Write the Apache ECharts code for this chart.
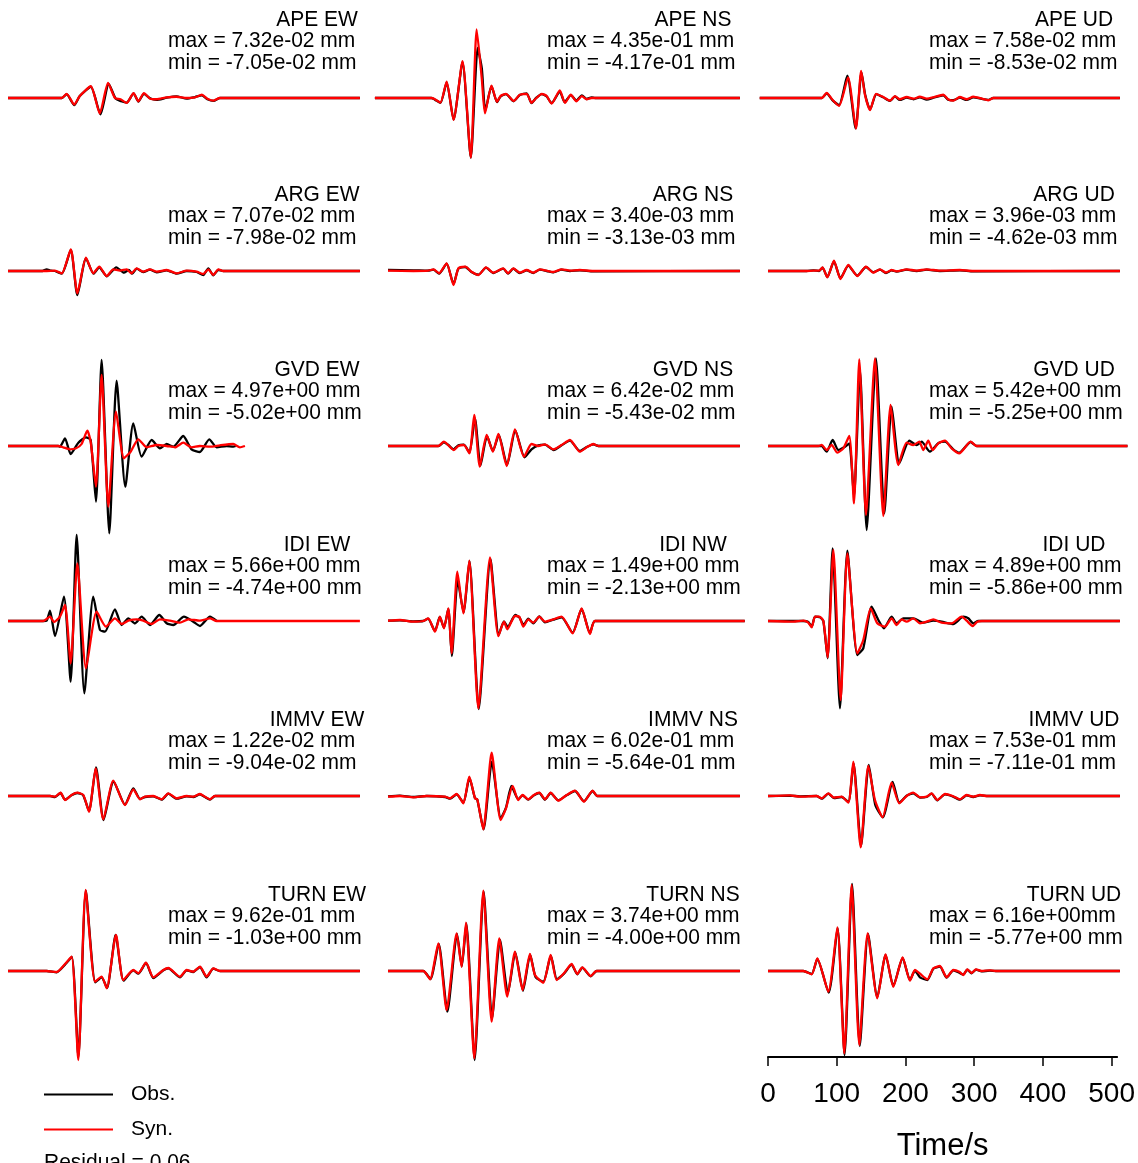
<!DOCTYPE html>
<html><head><meta charset="utf-8">
<script src="https://cdn.jsdelivr.net/npm/echarts@6/dist/echarts.min.js"></script>
<style>html,body{margin:0;padding:0;background:#fff;} #chart{width:1138px;height:1163px;}</style>
</head><body><div id="chart"></div>
<script>
// ---------- labels ----------
const panelNames = ['APE EW','APE NS','APE UD','ARG EW','ARG NS','ARG UD','GVD EW','GVD NS','GVD UD',
  'IDI EW','IDI NW','IDI UD','IMMV EW','IMMV NS','IMMV UD','TURN EW','TURN NS','TURN UD'];
const maxLabels = ['max = 7.32e-02 mm','max = 4.35e-01 mm','max = 7.58e-02 mm',
  'max = 7.07e-02 mm','max = 3.40e-03 mm','max = 3.96e-03 mm',
  'max = 4.97e+00 mm','max = 6.42e-02 mm','max = 5.42e+00 mm',
  'max = 5.66e+00 mm','max = 1.49e+00 mm','max = 4.89e+00 mm',
  'max = 1.22e-02 mm','max = 6.02e-01 mm','max = 7.53e-01 mm',
  'max = 9.62e-01 mm','max = 3.74e+00 mm','max = 6.16e+00mm'];
const minLabels = ['min = -7.05e-02 mm','min = -4.17e-01 mm','min = -8.53e-02 mm',
  'min = -7.98e-02 mm','min = -3.13e-03 mm','min = -4.62e-03 mm',
  'min = -5.02e+00 mm','min = -5.43e-02 mm','min = -5.25e+00 mm',
  'min = -4.74e+00 mm','min = -2.13e+00 mm','min = -5.86e+00 mm',
  'min = -9.04e-02 mm','min = -5.64e-01 mm','min = -7.11e-01 mm',
  'min = -1.03e+00 mm','min = -4.00e+00 mm','min = -5.77e+00 mm'];
const timeTicks = [0,100,200,300,400,500];
const residualText = 'Residual = 0.06';

// ---------- waveforms: [time (s), amplitude (display units)] ----------
const APE_EW_obs = [[0,0],[78,0],[85,4],[96,-7.3],[104,2],[120,11.5],[134,-16.7],[146,14.5],[156,-0.7],[164,-3.3],[172,-4.7],[182,4.7],[189,-3.7],[197,4.3],[206,-0.3],[215,-2],[230,0.3],[244,1.7],[259,-0.7],[271,1],[281,2.7],[289,-1.3],[298,-3],[307,0],[510,0]];
const APE_EW_syn = [[0,0],[78,0],[85,4.3],[96,-6.7],[104,2],[120,12],[133,-15.7],[145,15.3],[155,0],[163,-1.3],[172,-5],[182,5],[189,-3.3],[197,5],[206,-0.7],[215,-1.3],[230,0.7],[244,1.3],[259,0],[271,0.7],[281,3.3],[289,-0.7],[298,-2.7],[307,0],[510,0]];
const APE_NS_obs = [[-19,0],[63,0],[68,-1.7],[76,-5],[85,16],[95,-22],[108,36.5],[120,-60.7],[130,51],[136,30],[141,-13],[150,12],[158,-4.3],[163,1.5],[171,4],[182,-3.3],[191,3],[201,4.7],[208,-5.3],[215,0.3],[223,4],[230,1.5],[237,-5.3],[249,6.5],[256,-4.3],[265,3],[273,-2.7],[281,2.7],[288,-1],[295,0.7],[300,0],[510,0]];
const APE_NS_syn = [[-19,0],[63,0],[68,-1.3],[76,-4.7],[85,16.7],[95,-22.3],[108,37.7],[120,-60.7],[128.5,70],[136,19.3],[140.5,-15.7],[150,12.7],[158,-4],[163,2],[171,4.3],[182,-3],[191,3.3],[201,4.3],[208,-5],[215,0],[223,4.3],[230,2],[237,-5.7],[249,7.7],[256.5,-5],[265,3.3],[273,-3.3],[281,2],[288,-1.3],[295,0],[510,0]];
const APE_UD_obs = [[-12,0],[78,0],[85,4.7],[94,-2.7],[103,-7.3],[115,22.7],[127,-31],[135.5,26],[141,2.7],[148,-11.7],[157,4],[167,0.7],[177,-3],[184,1.7],[191,-2],[201,0.3],[211,-1.3],[220,0.7],[230,-1.7],[240,0.3],[254,2.7],[261,-1.7],[268.5,-2.3],[278,0.3],[288,-2],[297.5,0.7],[310,-1],[319,-2],[326.5,0],[510,0]];
const APE_UD_syn = [[-12,0],[78,0],[85,5.3],[94,-2.3],[103,-8],[116,21],[127.5,-31.3],[135,27.7],[140.5,3.3],[148,-12.3],[156.5,4.3],[167,1],[177,-2.7],[184,2],[191,-1.3],[201,1],[211,-0.7],[220,1.3],[230,-0.7],[240,0.7],[254,3.3],[261,-1.3],[268.5,-2.7],[278,1],[288,-1.3],[297.5,1.3],[310,-0.7],[319,-2.3],[326.5,0],[510,0]];

const ARG_EW_obs = [[0,0],[50,0],[56,1.7],[62,0.3],[68,0],[78,-2.7],[91,21],[100.5,-24],[113,12.7],[124,-2.7],[132.3,3.7],[143,-5.3],[157,3.7],[168,-1.7],[175,1],[180,-2.7],[186.4,2.3],[196,-1],[205.7,1.3],[215.4,-1.3],[230,0.7],[244.4,-2.7],[259,0],[273.4,-1],[283,-4],[290.3,2.7],[297.5,-4.3],[304.8,1],[312,0],[510,0]];
const ARG_EW_syn = [[0,0],[56,0],[68,0.3],[78,-2.3],[91,21.7],[100.5,-22.3],[113,13.3],[123.6,-2.3],[132.3,4.3],[143,-5],[152.6,1.7],[162.3,0.3],[172,1.7],[179,-2.3],[186.4,2.7],[196,-0.7],[205.7,1.7],[215.4,-0.7],[230,1],[244.4,-2.3],[259,0.3],[273.4,-0.7],[283,-3],[290.3,1.7],[297.5,-4],[304.8,1.7],[312,0],[510,0]];
const ARG_NS_obs = [[0,1],[37,0.7],[58,0.3],[66,1.3],[74,-2.7],[85,7.3],[95,-13],[102,2.3],[112,4],[121,-1],[131,-3.7],[142,3.3],[152.6,-2],[167,2.3],[174,-2.7],[181.6,2.3],[191,-2],[201,0.7],[210.6,-2],[220,1.3],[230,0],[239.6,-1.3],[251.6,1.3],[263.7,0],[278,0.7],[297.5,-0.3],[510,0]];
const ARG_NS_syn = [[0,0.3],[37,0],[58,0.3],[66,1.7],[74,-2.3],[85,7.7],[95,-14],[102,2.7],[112,4.3],[121,-0.7],[131,-4],[142,3.7],[152.6,-1.7],[167,2.7],[174,-2.3],[181.6,2.7],[191,-1.7],[201,1],[210.6,-1.7],[220,1.7],[230,0.3],[239.6,-1],[251.6,1.7],[263.7,0.3],[278,1],[297.5,0],[510,0]];
const ARG_UD_obs = [[0,0],[56,0],[66,0.7],[74,0],[79,3.3],[86,-6],[95.6,9.7],[105,-7.3],[116.4,5.3],[129.4,-4.7],[142,4],[152.6,-1.3],[162.3,1.3],[171,-2],[179,0.7],[186.4,-0.7],[201,1.3],[215.4,0],[230,1.3],[249,0],[278,0.7],[297.5,-0.3],[510,0]];
const ARG_UD_syn = [[0,0],[56,0],[66,0.3],[74,0.3],[79,3.7],[86,-6.3],[95.6,10.3],[105,-8],[116.4,6],[129.4,-5],[142,4.3],[152.6,-1.7],[162.3,1.7],[171,-1.7],[179,1],[186.4,-0.3],[201,1.7],[215.4,0.3],[230,1.7],[249,0.3],[278,1],[297.5,0],[510,0]];

const GVD_EW_obs = [[0,0],[73,0],[75.3,-0.7],[82.6,7.7],[90.8,-8],[102,3.3],[113,8.7],[119.8,6],[127.5,-55.7],[135.7,86],[146.8,-87.3],[157.4,65.3],[170,-40.7],[181.6,22.7],[193.7,-10.7],[208.2,6],[220.2,-2.3],[230,2],[239.6,-0.7],[254,10],[266,-3.3],[278,-6],[291.7,6.7],[302.4,-1.3],[316.8,0],[326.5,-0.7],[330,0]];
const GVD_EW_syn = [[0,0],[73,0],[80,-1.3],[90,-3.3],[98.5,-2.3],[106.7,2],[115,15.3],[119.8,4.3],[127.5,-40.7],[135.7,71],[145.4,-60.7],[156.5,34.3],[168,-12.3],[177.7,-5.7],[188.8,6.7],[201,-1.3],[215.4,1],[230,0],[242,-1.3],[254,3.3],[266,-1.3],[278,0],[292.7,-0.7],[307,0.7],[326.5,2],[336,-1.3],[343.4,0]];
const GVD_NS_obs = [[0,0],[73,0],[81,3.7],[87,1.3],[95,-3.3],[102,0.7],[110,1.3],[118,-6.7],[126,27.7],[134,-19.7],[143.5,10],[152,-5],[160.5,11],[172.5,-19],[184.5,15.7],[198,-11.3],[208,-3.3],[218,0.7],[227.5,1.3],[240,-4],[251.6,0.7],[263.7,5.3],[278,-5],[288,-1],[297.5,1.7],[305,0],[510,0]];
const GVD_NS_syn = [[0,0],[73,0],[81,4.3],[87,1],[95,-4],[102,0],[110,1],[118,-7.3],[125,31],[133,-20.7],[143,11],[152,-5.7],[160,12],[172,-20],[184,16.7],[197,-10.7],[208,2],[218,0],[227.5,1.7],[239.6,-3.3],[251.6,1],[263.7,6],[278,-5.7],[288,-1.3],[297.5,2],[305,0],[510,0]];
const GVD_UD_obs = [[0,0],[73,0],[77.8,0],[85,-5.7],[93.7,6],[101.9,-4],[111.6,-0.7],[117.8,2.7],[124.6,-50.7],[133.3,76],[143,-84],[156.5,87.7],[168.6,-67.3],[179.2,39.3],[190.3,-17.3],[204.8,5.3],[215.4,1],[222.7,4.3],[234.7,-5.7],[246.8,2.7],[256.5,4.3],[268.5,-3.3],[277.2,-6.7],[293.7,4],[302.4,0],[521,0]];
const GVD_UD_syn = [[0,0],[73,0],[77.8,1],[85,-4],[92.2,1],[100.5,-6.7],[109.2,-2.3],[117.8,10],[124.6,-57.3],[132.3,86.7],[142,-69],[155,87.7],[167.1,-70],[177.7,41],[188.8,-19],[200.9,3.3],[210.6,1],[219.3,4.3],[225.1,-4],[232.3,5.3],[238.6,-4],[246.8,2.7],[256.5,5.3],[266.1,-2.3],[277.2,-7.3],[293.7,4.3],[302.4,0],[521,0]];

const IDI_EW_obs = [[0,0],[51.2,0],[56,0.3],[60.9,10.3],[68.1,-15],[81.1,24.3],[90.8,-60.7],[99.5,86],[110.6,-72.3],[123.6,24.3],[133.3,-9],[140.5,-10.7],[155,11.7],[164.7,-4],[174.4,2.7],[184,-2.3],[193.7,4.3],[205.7,-4],[219.3,6],[229.9,-2.3],[239.6,-4],[255,4.3],[268.5,-0.7],[278.2,-5],[292.7,4.3],[302.4,0]];
const IDI_EW_syn = [[0,0],[36.7,0],[51.2,0],[60.9,4.3],[66.6,-1],[75.3,4.3],[82.6,16],[90.8,-42.3],[100.5,57.7],[113,-47.3],[128.5,9.3],[142,-5.7],[155,2.7],[164.7,-3],[174.4,0.3],[186.4,1.7],[196.1,0.3],[208.2,-3],[220.2,1.7],[234.7,0.3],[249.2,-1.7],[261.3,1.7],[278.2,0.3],[292.7,2.7],[302.4,0],[510,0]];
const IDI_NW_obs = [[0,0.3],[17,0.7],[37,-0.3],[51,0],[58,2.3],[68,-10],[75,4],[81,-6.7],[87.4,12],[92.5,-35],[101,41],[109.5,8.7],[118,60],[131.5,-88],[148.5,62],[160.5,-14],[168,-0.3],[173.5,-6],[184.5,6],[190.3,3.7],[196.5,-4],[203.3,2.3],[210.6,-2.3],[219.3,4.7],[227.5,-1.3],[239.6,1.3],[251.6,3.7],[267.6,-11.7],[280.6,12],[292.7,-12],[300,0],[517,0]];
const IDI_NW_syn = [[0,0.3],[17.4,1],[36.7,-0.7],[51.2,0],[58.4,2.7],[68.1,-10.7],[75.3,4.3],[81.1,-7.3],[87.4,12.7],[92.2,-32.3],[100.5,49.3],[109.2,7.7],[117.8,60.3],[130.9,-87.3],[147.8,63.7],[159.9,-15],[168.1,-0.7],[172.9,-8.3],[184,5],[190.3,4.3],[196.1,-5.7],[203.3,1.7],[210.6,-1.7],[219.3,4.3],[227.5,-0.7],[239.6,1.7],[251.6,4.3],[267.6,-12.3],[280.6,12.7],[292.7,-13],[300,0],[517,0]];
const IDI_UD_obs = [[0,0],[36.7,0],[51.2,0],[58.4,-1],[63.3,-5.7],[68.1,4.3],[75.3,3.7],[80.2,0],[86.4,-37.3],[93.7,72.7],[104.3,-87.3],[115,70.3],[129.4,-34],[138.1,-27.3],[150.2,14.3],[159.9,1],[168.1,-7.3],[179.2,4.3],[186.4,-2.3],[196.1,2.7],[210.6,2.7],[225.1,-1.7],[239.6,0.3],[251.6,-0.7],[268.5,-3],[283.1,4.3],[290.3,2.7],[297.5,-2.3],[304.8,0],[510,0]];
const IDI_UD_syn = [[0,0],[36.7,-0.7],[51.2,0.3],[58.4,-1.7],[63.3,-6.3],[68.1,4.3],[74.4,4.3],[80.2,0.3],[86.4,-36.3],[94.7,71],[105.3,-79],[115,67.7],[129.4,-32.3],[138.1,-19],[148.8,12.7],[158.4,-2.3],[169.5,-5.7],[179.2,2.7],[186.4,-4],[193.7,1.7],[200.9,-0.7],[210.6,2.7],[220.2,-2.3],[229.9,-0.7],[239.6,1.7],[251.6,-1.7],[266.1,-2.3],[280.6,4.3],[287.9,0.3],[296.6,-5],[303.3,-0.7],[310,0],[510,0]];

const IMMV_EW_obs = [[0,0],[61,0],[68,-1],[76,3],[82.6,-3.7],[92,0.7],[100.5,3],[109,0.7],[117.4,-15],[127.5,28.7],[138.5,-24],[153,14.7],[169.5,-8.7],[181.6,7.7],[191.3,-3],[198.5,-1],[210.6,-0.3],[222.7,-3.7],[232.3,2.3],[244.4,-2.7],[258.9,-0.3],[268.5,-1],[278.2,1.7],[285.4,-1],[292.7,-3.7],[300,0],[510,0]];
const IMMV_EW_syn = [[0,0],[60.9,0],[68.1,-0.7],[76.3,3.3],[82.6,-4],[92.2,1],[100.5,3.3],[109.2,1],[117.4,-15.7],[127,27.7],[138.1,-23.3],[152.6,15.3],[169.5,-9],[181.6,6.7],[191.3,-3.3],[198.5,-0.7],[210.6,0],[222.7,-3.3],[232.3,2.7],[244.4,-2.3],[258.9,0],[268.5,-0.7],[278.2,2],[285.4,-0.7],[292.7,-3.3],[299.9,0],[510,0]];
const IMMV_NS_obs = [[0,-0.3],[17,0.3],[37,-1],[56,0],[83,-1],[90,-2.7],[99.5,1.7],[109.2,-6.7],[118,18],[126,-2],[129.4,-3.7],[138.5,-33.3],[150.5,34.3],[163.5,-22.3],[171,-11.7],[179,10],[188.8,-3.3],[195,0.7],[203.3,-3.7],[211.5,0.7],[219.3,3],[227.5,-3.7],[235.7,3],[246.8,-4.3],[258.9,0.7],[271,5],[284,-5.3],[296.6,5],[303.3,0],[510,0]];
const IMMV_NS_syn = [[0,-0.7],[17.4,0],[36.7,-1.3],[56,0],[82.6,-0.7],[89.8,-2.3],[99.5,2],[109.2,-7.3],[117.8,19.3],[126.1,-2.3],[129.4,-3.3],[138.1,-33.3],[150.2,43.3],[163.2,-24],[171,-12.3],[180.6,10],[188.8,-4],[195.1,1],[203.3,-3.3],[211.5,1],[219.3,3.3],[227.5,-3.3],[235.7,3.3],[246.8,-4.7],[258.9,1],[271,5.3],[284,-5.7],[296.6,5.3],[303.3,0],[510,0]];
const IMMV_UD_obs = [[0,0],[32,0.3],[46,-0.3],[70.5,0],[78,-2.7],[87.4,2.3],[95.6,-2],[106.7,-1],[116.4,-6],[124,32.7],[134.8,-50],[146,31],[155.5,-9],[166.5,-21.3],[180.6,14],[190.3,-6.7],[200.9,0.3],[210.6,2.7],[220.2,-1.7],[229.9,-1],[237.1,2.3],[245.4,-4.3],[256.5,1.7],[267.6,-0.3],[278.2,-3.7],[287.9,0.7],[297.5,-1],[307.2,0.7],[316.8,0],[510,0]];
const IMMV_UD_syn = [[0,0],[31.9,0.7],[46.4,-0.7],[70.5,0],[77.8,-2.3],[87.4,2.7],[95.6,-1.7],[106.7,-0.7],[116.4,-6.7],[123.6,34.3],[134.3,-51.3],[145.4,30],[155,-4],[166.1,-21.3],[179.2,13.3],[190.3,-7.3],[200.9,0],[210.6,3.3],[220.2,-1.3],[229.9,-0.7],[237.1,2.7],[245.4,-4],[256.5,2],[267.6,0],[278.2,-3.3],[287.9,1],[297.5,-0.7],[307.2,1],[316.8,0],[510,0]];

const TURN_EW_obs = [[0,0],[56,0],[70.5,-1.3],[82.6,6.3],[92.5,14],[102,-86],[112.8,80.3],[126.5,-11.3],[135.7,-6.3],[143.5,-17],[156,36],[167.5,-9.7],[181.6,0.7],[188.8,-2.7],[200,8],[210.6,-7],[225.1,0.7],[232.3,2.7],[249.2,-6.3],[258.9,0.7],[268.5,-1],[278.2,4],[287.9,-6.3],[297.5,2.3],[307.2,0],[510,0]];
const TURN_EW_syn = [[0,0],[56,0],[70.5,-1],[82.6,7],[92.2,14.3],[101.9,-89],[112.5,81],[126.1,-10.7],[135.7,-5.7],[143,-17.3],[156.5,36],[167.1,-9],[181.6,1],[188.8,-2.3],[200,8.3],[210.6,-6.3],[225.1,1],[232.3,3],[249.2,-5.7],[258.9,1],[268.5,-0.7],[278.2,4.3],[287.9,-5.7],[297.5,2.7],[307.2,0],[510,0]];
const TURN_NS_obs = [[0,0],[51,0],[61.5,-8],[73.5,27],[86,-40.7],[100,37],[107,4.7],[113.5,47.7],[125.6,-89],[138.6,79.7],[150.8,-47.3],[162.3,31],[173.8,-22.3],[184.5,18.7],[195.6,-19.7],[206,16.3],[214,-6.3],[225.1,-10.7],[236,15.3],[244.8,-8.3],[255,-2.7],[266.1,6.3],[274.3,-3.3],[281.6,3.3],[293.7,-5.3],[302.4,0],[510,0]];
const TURN_NS_syn = [[0,0],[51.2,0],[60.9,-8.3],[72.9,27.7],[85,-39],[99.5,37.7],[106.7,4.3],[113,48.3],[125.1,-87.3],[138.1,80.3],[150.2,-50.7],[161.3,32.7],[172.9,-25.7],[184,19.3],[195.1,-19],[205.7,17],[213,-4],[225.1,-11.7],[235.7,16],[244.4,-9],[255,-2.3],[266.1,7],[274.3,-3],[281.6,3.7],[293.7,-5],[302.4,0],[510,0]];
const TURN_UD_obs = [[0,0],[36.7,0],[51.2,0],[63.3,-3],[71.5,12],[88,-21.7],[100.8,43],[111,-84],[121.8,87],[133,-75],[145,37],[158.4,-26.3],[170.5,16],[181.6,-15],[195.1,13],[205.7,-9],[213,0.3],[220.2,-6.3],[230.9,-9],[239.6,2.3],[249.2,4.3],[258.9,-6.7],[268.5,0.7],[277.2,-1.7],[283,-3.7],[288.8,1.3],[295.1,-2.3],[301.4,1.3],[309.6,-0.3],[321.7,0.3],[330,0],[510,0]];
const TURN_UD_syn = [[0,0],[36.7,0],[51.2,0],[63.3,-3.3],[71.5,12.7],[87.4,-20.7],[100.5,43.7],[110.6,-82.3],[121.2,86],[132.3,-74],[144.4,37.7],[158.4,-27.3],[170.5,16.7],[181.6,-15.7],[195.1,13.7],[205.7,-9.7],[213,1],[220.2,-2.7],[230.9,-8.3],[239.6,2.7],[249.2,5],[258.9,-6.3],[268.5,1],[277.2,-0.7],[283,-4],[288.8,1.7],[295.1,-2],[301.4,1.7],[309.6,0],[321.7,0.7],[330,0],[510,0]];

const obsData = [APE_EW_obs,APE_NS_obs,APE_UD_obs,ARG_EW_obs,ARG_NS_obs,ARG_UD_obs,GVD_EW_obs,GVD_NS_obs,GVD_UD_obs,
  IDI_EW_obs,IDI_NW_obs,IDI_UD_obs,IMMV_EW_obs,IMMV_NS_obs,IMMV_UD_obs,TURN_EW_obs,TURN_NS_obs,TURN_UD_obs];
const synData = [APE_EW_syn,APE_NS_syn,APE_UD_syn,ARG_EW_syn,ARG_NS_syn,ARG_UD_syn,GVD_EW_syn,GVD_NS_syn,GVD_UD_syn,
  IDI_EW_syn,IDI_NW_syn,IDI_UD_syn,IMMV_EW_syn,IMMV_NS_syn,IMMV_UD_syn,TURN_EW_syn,TURN_NS_syn,TURN_UD_syn];

// ---------- layout ----------
const ROW_BASE = [96, 271, 446, 621, 796, 971];
const COL_ORIGIN = [8, 388, 768];
const COL_TMIN = [-11, -20, -20];
const PXS = 0.69;            // pixels per second
const T_MAX = 530;
const TITLE_CX = [317, 693, 1074];
const TEXT_LEFT = [168, 547, 929];
const FONT = '"Liberation Sans", Arial, Helvetica, sans-serif';
const LINE_W = 2.3;

const grid = [], xAxis = [], yAxis = [], series = [], graphic = [];
const txt = (s, x, y, align) => ({type: 'text', z: 100, x: x, y: y, scaleY: 1.08,
  style: {text: s, x: 0, y: 0, align: align, verticalAlign: 'middle', font: '21px ' + FONT, fill: '#000'}});
for (let i = 0; i < 18; i++) {
  const r = Math.floor(i / 3), c = i % 3;
  const tmin = COL_TMIN[c];
  grid.push({left: COL_ORIGIN[c] + tmin * PXS, top: ROW_BASE[r] - 100, width: (T_MAX - tmin) * PXS, height: 200});
  xAxis.push({gridIndex: i, type: 'value', min: tmin, max: T_MAX, show: false});
  yAxis.push({gridIndex: i, type: 'value', min: -100, max: 100, show: false});
  graphic.push(txt(panelNames[i], TITLE_CX[c], ROW_BASE[r] - 76.5, 'center'));
  graphic.push(txt(maxLabels[i], TEXT_LEFT[c], ROW_BASE[r] - 55, 'left'));
  graphic.push(txt(minLabels[i], TEXT_LEFT[c], ROW_BASE[r] - 33.5, 'left'));
}
for (let i = 0; i < 18; i++) {
  series.push({name: 'Obs.', type: 'line', xAxisIndex: i, yAxisIndex: i, data: obsData[i], showSymbol: false,
    smooth: 0.2, clip: false, color: '#000000', lineStyle: {color: '#000000', width: LINE_W}, z: 2, silent: true});
}
for (let i = 0; i < 18; i++) {
  series.push({name: 'Syn.', type: 'line', xAxisIndex: i, yAxisIndex: i, data: synData[i], showSymbol: false,
    smooth: 0.2, clip: false, color: '#ff0000', lineStyle: {color: '#ff0000', width: LINE_W}, z: 3, silent: true});
}
// time axis
grid.push({left: COL_ORIGIN[2], top: 1000, width: 508 * PXS, height: 58});
xAxis.push({gridIndex: 18, type: 'value', min: 0, max: 508, position: 'bottom',
  axisLine: {show: true, onZero: false, lineStyle: {color: '#000', width: 2}},
  axisTick: {show: true, customValues: timeTicks, length: 9, lineStyle: {color: '#000', width: 1.5}},
  axisLabel: {show: true, customValues: timeTicks, fontSize: 28, color: '#000', margin: 23, fontFamily: FONT},
  splitLine: {show: false},
  name: 'Time/s', nameLocation: 'middle', nameGap: 74, nameTextStyle: {fontSize: 31, color: '#000', fontFamily: FONT}});
yAxis.push({gridIndex: 18, type: 'value', min: 0, max: 1, show: false});

graphic.push(txt(residualText, 44, 1163, 'left'));

const chart = echarts.init(document.getElementById('chart'), null, {renderer: 'canvas'});
chart.setOption({
  animation: false,
  backgroundColor: '#fff',
  grid, xAxis, yAxis, series, graphic,
  legend: {data: ['Obs.', 'Syn.'], orient: 'vertical', left: 44, top: 1084, padding: 0, icon: 'rect',
    itemWidth: 69, itemHeight: 2, itemGap: 14, selectedMode: false,
    textStyle: {fontSize: 21, color: '#000', fontFamily: FONT, padding: [0, 0, 0, 13]}}
});
</script></body></html>
